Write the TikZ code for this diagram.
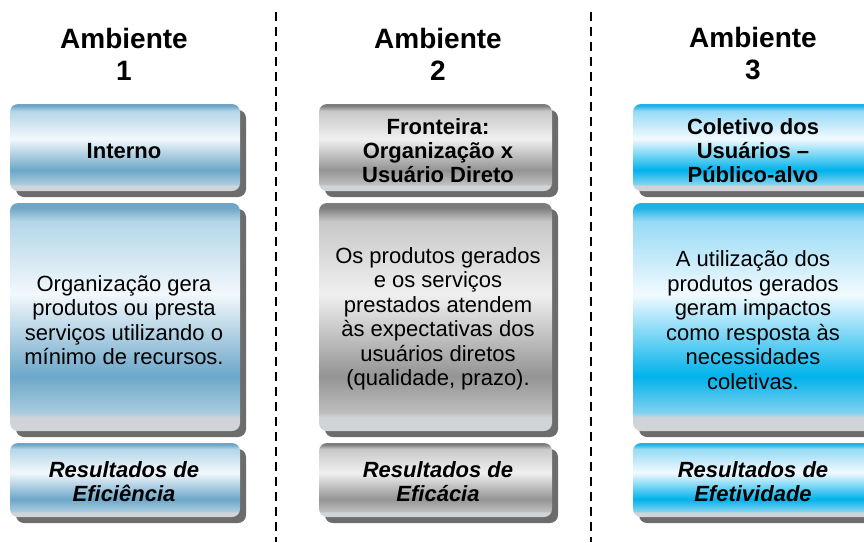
\documentclass[tikz,border=0pt]{standalone}
\usepackage{fontspec}
\setmainfont{Liberation Sans}
\usetikzlibrary{shadows}
\definecolor{shadowgray}{RGB}{108,108,108}
\definecolor{stripgray}{RGB}{208,212,216}
% blue column
\definecolor{bA}{RGB}{112,165,197}
\definecolor{bB}{RGB}{180,214,232}
\definecolor{bC}{RGB}{242,248,252}
\definecolor{bD}{RGB}{108,167,201}
\definecolor{bE}{RGB}{170,204,222}
% grey column
\definecolor{gA}{RGB}{125,125,125}
\definecolor{gB}{RGB}{200,200,200}
\definecolor{gC}{RGB}{240,240,240}
\definecolor{gD}{RGB}{148,148,148}
\definecolor{gE}{RGB}{190,190,190}
% cyan column
\definecolor{cA}{RGB}{30,178,230}
\definecolor{cB}{RGB}{150,218,245}
\definecolor{cC}{RGB}{242,250,255}
\definecolor{cD}{RGB}{0,178,235}
\definecolor{cE}{RGB}{130,210,240}
\pgfdeclareverticalshading{sblue}{100bp}{color(0bp)=(stripgray); color(25bp)=(stripgray); color(28bp)=(stripgray); color(29bp)=(bE); color(37bp)=(bD); color(55bp)=(bC); color(71bp)=(bB); color(74bp)=(bA); color(75bp)=(bA); color(100bp)=(bA)}
\pgfdeclareverticalshading{sgray}{100bp}{color(0bp)=(stripgray); color(25bp)=(stripgray); color(28bp)=(stripgray); color(29bp)=(gE); color(37bp)=(gD); color(55bp)=(gC); color(71bp)=(gB); color(74bp)=(gA); color(75bp)=(gA); color(100bp)=(gA)}
\pgfdeclareverticalshading{scyan}{100bp}{color(0bp)=(stripgray); color(25bp)=(stripgray); color(28bp)=(stripgray); color(29bp)=(cE); color(37bp)=(cD); color(55bp)=(cC); color(71bp)=(cB); color(74bp)=(cA); color(75bp)=(cA); color(100bp)=(cA)}
\tikzset{
  box/.style={rounded corners=8pt, inner sep=0pt,
    drop shadow={shadow xshift=6pt, shadow yshift=-6pt, fill=shadowgray, opacity=1}},
  hbox/.style={box, minimum height=87pt},
  mbox/.style={box, minimum height=228pt},
  rbox/.style={box, minimum height=74pt},
  htxt/.style={align=center, inner sep=0pt, font=\fontsize{22}{24}\selectfont\bfseries},
  mtxt/.style={align=center, inner sep=0pt, font=\fontsize{22}{24.5}\selectfont},
  rtxt/.style={align=center, inner sep=0pt, font=\fontsize{22}{24}\selectfont\bfseries\itshape},
  headtxt/.style={align=center, inner sep=0pt, font=\fontsize{28}{32}\selectfont\bfseries},
  sepline/.style={line width=2pt, dash pattern=on 9pt off 6pt}
}
\begin{document}
\begin{tikzpicture}[x=1pt,y=-1pt]
\useasboundingbox (0,0) rectangle (864,542);
\clip (0,0) rectangle (864,542);
% separators
\coordinate (s1t) at (276,12); \coordinate (s1b) at (276,542);
\coordinate (s2t) at (591,12); \coordinate (s2b) at (591,542);
\draw[sepline] (s1t) -- (s1b);
\draw[sepline] (s2t) -- (s2b);
% headings
\node[headtxt] (t1) at (124,54) {Ambiente\\1};
\node[headtxt] (t2) at (438,54) {Ambiente\\2};
\node[headtxt] (t3) at (753,54) {Ambiente\\3};
% column 1
\node[hbox, shading=sblue, minimum width=230pt] (h1) at (125,147.5) {};
\node[mbox, shading=sblue, minimum width=230pt] (m1) at (125,317) {};
\node[rbox, shading=sblue, minimum width=230pt] (r1) at (125,480) {};
\node[htxt] (h1t) at (124,151) {Interno};
\node[mtxt] (m1t) at (124,320) {Organização gera\\produtos ou presta\\serviços utilizando o\\mínimo de recursos.};
\node[rtxt] (r1t) at (124,482) {Resultados de\\Eficiência};
% column 2
\node[hbox, shading=sgray, minimum width=233pt] (h2) at (435.5,147.5) {};
\node[mbox, shading=sgray, minimum width=233pt] (m2) at (435.5,317) {};
\node[rbox, shading=sgray, minimum width=233pt] (r2) at (435.5,480) {};
\node[htxt] (h2t) at (438,151) {Fronteira:\\Organização x\\Usuário Direto};
\node[mtxt] (m2t) at (438,319) {Os produtos gerados\\e os serviços\\prestados atendem\\às expectativas dos\\usuários diretos\\(qualidade, prazo).};
\node[rtxt] (r2t) at (438,482) {Resultados de\\Eficácia};
% column 3
\node[hbox, shading=scyan, minimum width=240pt] (h3) at (753,147.5) {};
\node[mbox, shading=scyan, minimum width=240pt] (m3) at (753,317) {};
\node[rbox, shading=scyan, minimum width=240pt] (r3) at (753,480) {};
\node[htxt] (h3t) at (753,151) {Coletivo dos\\Usuários –\\Público-alvo};
\node[mtxt] (m3t) at (753,320) {A utilização dos\\produtos gerados\\geram impactos\\como resposta às\\necessidades\\coletivas.};
\node[rtxt] (r3t) at (753,482) {Resultados de\\Efetividade};
\end{tikzpicture}
\end{document}
